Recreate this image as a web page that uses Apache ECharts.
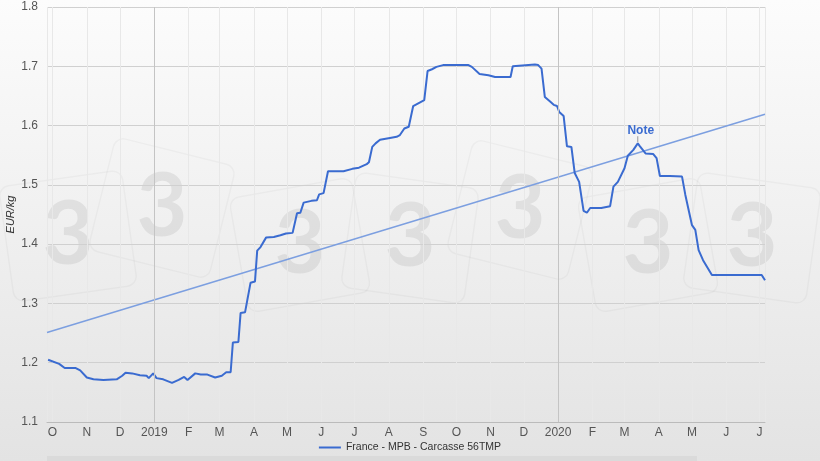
<!DOCTYPE html>
<html><head><meta charset="utf-8">
<script src="https://cdn.jsdelivr.net/npm/echarts@6/dist/echarts.min.js"></script>
<style>html,body{margin:0;padding:0;background:#fff}#c{width:820px;height:461px}</style>
</head><body><div id="c"></div>
<script>
const dates = ['2018-09-27','2018-10-07','2018-10-12','2018-10-22','2018-10-26','2018-11-01','2018-11-07','2018-11-16','2018-11-28','2018-12-03','2018-12-06','2018-12-12','2018-12-19','2018-12-25','2018-12-27','2018-12-31',
'2019-01-03','2019-01-09','2019-01-17','2019-01-23','2019-01-28','2019-01-31','2019-02-07','2019-02-12','2019-02-18','2019-02-25','2019-03-03','2019-03-07','2019-03-11','2019-03-13','2019-03-18','2019-03-20','2019-03-24','2019-03-29','2019-04-02','2019-04-04','2019-04-07','2019-04-12','2019-04-19','2019-04-25','2019-04-30','2019-05-06','2019-05-10','2019-05-13','2019-05-16','2019-05-23','2019-05-28','2019-05-30','2019-06-03','2019-06-07','2019-06-21','2019-06-29','2019-07-05','2019-07-12','2019-07-14','2019-07-17','2019-07-20','2019-07-24','2019-08-02','2019-08-08','2019-08-11','2019-08-15','2019-08-19','2019-08-23','2019-09-02','2019-09-05','2019-09-09','2019-09-13','2019-09-19','2019-10-12','2019-10-15','2019-10-22','2019-10-30','2019-11-05','2019-11-19','2019-11-21','2019-12-11','2019-12-14','2019-12-17','2019-12-20','2019-12-25','2019-12-28','2019-12-31',
'2020-01-02','2020-01-06','2020-01-09','2020-01-13','2020-01-16','2020-01-20','2020-01-24','2020-01-27','2020-01-30','2020-02-09','2020-02-17','2020-02-20','2020-02-24','2020-03-01','2020-03-04','2020-03-09','2020-03-13','2020-03-15','2020-03-20','2020-03-27','2020-03-30','2020-04-02','2020-04-11','2020-04-22','2020-04-25','2020-05-01','2020-05-04','2020-05-07','2020-05-11','2020-05-19','2020-07-03','2020-07-06'];
const prices = [1.205,1.198,1.191,1.191,1.187,1.175,1.172,1.171,1.172,1.178,1.183,1.182,1.179,1.178,1.174,1.182,
1.174,1.172,1.166,1.171,1.176,1.171,1.182,1.180,1.180,1.175,1.178,1.184,1.184,1.234,1.235,1.284,1.285,1.335,1.337,1.389,1.395,1.411,1.412,1.415,1.418,1.419,1.452,1.453,1.470,1.473,1.474,1.484,1.486,1.523,1.523,1.527,1.529,1.535,1.538,1.564,1.570,1.576,1.579,1.581,1.584,1.595,1.598,1.633,1.643,1.692,1.695,1.699,1.702,1.702,1.699,1.687,1.685,1.682,1.682,1.700,1.703,1.702,1.696,1.648,1.640,1.635,1.633,
1.623,1.616,1.565,1.564,1.520,1.505,1.456,1.453,1.461,1.461,1.464,1.497,1.505,1.528,1.549,1.559,1.570,1.565,1.553,1.552,1.545,1.515,1.515,1.514,1.483,1.432,1.424,1.390,1.373,1.348,1.348,1.339];
const trendDates = ['2018-09-26','2020-07-06'];
const trendValues = [1.251, 1.619];
const monthLetters = ['J','F','M','A','M','J','J','A','S','O','N','D'];
const yearLines = ['2019-01-01','2020-01-01'];
const seriesName = 'France - MPB - Carcasse 56TMP';
const yName = 'EUR/kg';
const noteText = 'Note';
const noteDate = '2020-03-13';
const noteValue = 1.57;
const xMin = '2018-09-26', xMax = '2020-07-06';
const yMin = 1.1, yMax = 1.8, yStep = 0.1;
const watermarks = [[68,236,8],[162,208,-14],[300,245,10],[410,238,-8],[520,210,-14],[648,245,10],[752,238,-8]];

const chart = echarts.init(document.getElementById('c'));
const font = 'Liberation Sans, Arial, sans-serif';
const mainData = dates.map((d,i)=>[d,prices[i]]);
const trendData = trendDates.map((d,i)=>[d,trendValues[i]]);

const wmGraphics = [];
watermarks.forEach(p=>{
  wmGraphics.push({type:'rect',x:p[0],y:p[1],rotation:p[2]*Math.PI/180,z:-2,silent:true,
    shape:{x:-62,y:-58,width:124,height:116,r:10},style:{fill:'none',stroke:'rgba(0,0,0,0.03)',lineWidth:1.5}});
  wmGraphics.push({type:'text',x:p[0],y:p[1],z:-1,silent:true,
    style:{text:'3',font:'bold 88px Lato, sans-serif',fill:'rgba(0,0,0,0.07)',align:'center',verticalAlign:'middle'}});
});

chart.setOption({
  animation:false,
  backgroundColor:{type:'linear',x:0,y:0,x2:0,y2:1,colorStops:[{offset:0,color:'#fcfcfc'},{offset:1,color:'#e3e3e3'}]},
  textStyle:{fontFamily:font},
  graphic: wmGraphics.concat([
     {type:'rect',shape:{x:47,y:456,width:650,height:5},style:{fill:'#dadada'},silent:true}
  ]),
  grid:{left:47,right:55,top:7,bottom:39,containLabel:false,outerBoundsMode:'none'},
  legend:{bottom:3,left:'center',data:[{name:seriesName,icon:'rect'}],itemWidth:22,itemHeight:2,itemGap:4,
    textStyle:{fontSize:10.5,color:'#333',fontFamily:font}},
  xAxis:{type:'time',min:xMin,max:xMax,splitNumber:22,
    axisLine:{show:true,lineStyle:{color:'#bbb'}},axisTick:{show:false},
    splitLine:{show:true,lineStyle:{color:'#e8e8e8'}},
    minorTick:{show:false},
    axisLabel:{color:'#555',fontSize:12,margin:5,hideOverlap:false,
      formatter:function(v){const d=new Date(v);const m=d.getMonth();return m===0?String(d.getFullYear()):monthLetters[m];}}},
  yAxis:{type:'value',min:yMin,max:yMax,interval:yStep,name:yName,nameLocation:'middle',nameGap:31,nameRotate:90,
    nameMoveOverlap:false,
    nameTextStyle:{fontStyle:'italic',fontSize:11,color:'#333'},
    axisLine:{show:false},axisTick:{show:false},
    splitLine:{lineStyle:{color:'#d0d0d0'}},
    axisLabel:{color:'#555',fontSize:12,margin:9,formatter:v=>v.toFixed(1)}},
  series:[
    {type:'line',name:'trend',data:trendData,showSymbol:false,silent:true,z:2,
      lineStyle:{color:'#7c9fe0',width:1.5},
      markLine:{silent:true,symbol:'none',label:{show:false},lineStyle:{color:'#c4c4c4',type:'solid',width:1},
        data:yearLines.map(d=>({xAxis:d}))}},
    {type:'line',name:seriesName,data:mainData,showSymbol:false,z:3,
      lineStyle:{color:'#3a6bd0',width:2},itemStyle:{color:'#3a6bd0'},
      markPoint:{silent:true,data:[{coord:[noteDate,noteValue],symbol:'rect',symbolSize:[1,6],symbolOffset:[0,-4],
        itemStyle:{color:'#999'},
        label:{show:true,position:'top',distance:0,offset:[3,0],formatter:noteText,color:'#3a6bd0',fontWeight:'bold',fontSize:12}}]}}
  ]
});
</script></body></html>
